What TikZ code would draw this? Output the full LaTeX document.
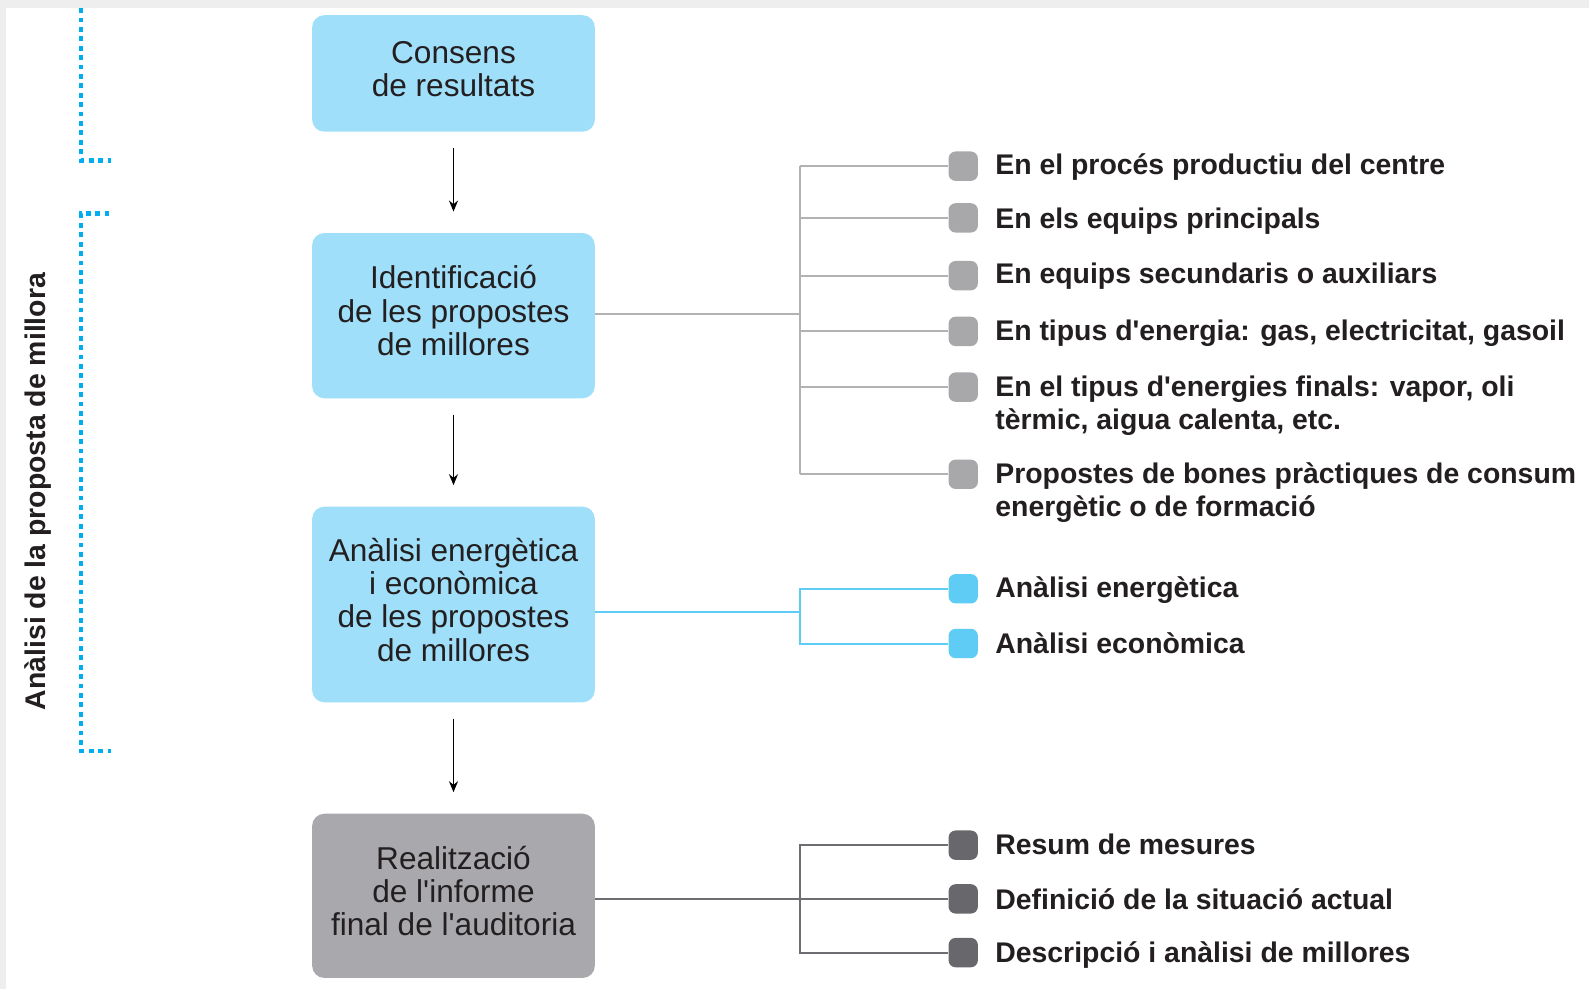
\documentclass[tikz,border=0pt]{standalone}
\usepackage{fontspec}
\setmainfont{Liberation Sans}
\usetikzlibrary{arrows.meta}
\definecolor{boxblue}{RGB}{160,223,249}
\definecolor{boxgray}{RGB}{169,169,173}
\definecolor{bulgray}{RGB}{168,168,171}
\definecolor{bulblue}{RGB}{95,204,245}
\definecolor{buldark}{RGB}{104,104,108}
\definecolor{lingray}{RGB}{178,178,180}
\definecolor{linblue}{RGB}{95,204,245}
\definecolor{lindark}{RGB}{110,110,114}
\definecolor{dotblue}{RGB}{0,174,239}
\definecolor{txt}{RGB}{35,31,32}
\definecolor{frame}{RGB}{238,238,238}
\newcommand{\boxtext}[2]{\raisebox{#1}{\begin{tabular}{@{}c@{}}#2\end{tabular}}}
\tikzset{
  stepbox/.style={rounded corners=12.2pt, minimum width=282.7pt, align=center, inner sep=0pt,
     font=\fontsize{31.6}{33.4}\selectfont, text=txt},
  bul/.style={rounded corners=7.1pt, minimum width=29.4pt, minimum height=29.4pt, inner sep=0pt},
  item/.style={anchor=base west, align=left, inner sep=0pt, font=\bfseries\fontsize{28.4}{33.4}\selectfont, text=txt},
  flow/.style={line width=1.6pt, -{Stealth[length=11pt,width=9pt]}, black, shorten <=16.2pt, shorten >=21.3pt},
  conn/.style={line width=2pt},
  dotbr/.style={dotblue, line width=4.8pt, dash pattern=on 4.8pt off 4.6pt}
}
\begin{document}
\begin{tikzpicture}[x=1.0134pt,y=-1.0134pt]
\useasboundingbox (0,0) rectangle (1568,976);
\fill[white] (0,0) rectangle (1568,976);
\fill[frame] (0,0) rectangle (1568,8);
\fill[frame] (0,0) rectangle (6,976);

% main boxes
\node[stepbox, fill=boxblue, minimum height=116.5pt] (c1) at (447.5,72.5) {\boxtext{8pt}{Consens\\de resultats}};
\node[stepbox, fill=boxblue, minimum height=165.2pt] (c2) at (447.5,311.5) {\boxtext{3pt}{Identificació\\de les propostes\\de millores}};
\node[stepbox, fill=boxblue, minimum height=195.6pt] (c3) at (447.5,596.5) {\boxtext{3pt}{Anàlisi energètica\\i econòmica\\de les propostes\\de millores}};
\node[stepbox, fill=boxgray, minimum height=164.2pt] (c4) at (447.5,884) {\boxtext{3.5pt}{Realització\\de l\textquotesingle informe\\final de l\textquotesingle auditoria}};

\draw[flow] (c1) -- (c2);
\draw[flow] (c2) -- (c3);
\draw[flow] (c3) -- (c4);

% gray group
\node[bul, fill=bulgray] (b1) at (950.5,164) {};
\node[bul, fill=bulgray] (b2) at (950.5,215) {};
\node[bul, fill=bulgray] (b3) at (950.5,272) {};
\node[bul, fill=bulgray] (b4) at (950.5,327) {};
\node[bul, fill=bulgray] (b5) at (950.5,382) {};
\node[bul, fill=bulgray] (b6) at (950.5,468) {};
\node[item] (i1) at (982,172) {En el procés productiu del centre};
\node[item] (i2) at (982,225) {En els equips principals};
\node[item] (i3) at (982,280) {En equips secundaris o auxiliars};
\node[item] (i4) at (982,336) {En tipus d\textquotesingle energia: gas, electricitat, gasoil};
\node[item] (i5) at (982,424) {En el tipus d\textquotesingle energies finals: vapor, oli\\tèrmic, aigua calenta, etc.};
\node[item] (i6) at (982,510) {Propostes de bones pràctiques de consum\\energètic o de formació};
\coordinate (tg) at (789,310);
\draw[conn, lingray] (c2.east |- tg) -- (tg);
\draw[conn, lingray] (tg |- b1) -- (tg |- b6);
\foreach \b in {b1,b2,b3,b4,b5,b6} \draw[conn, lingray] (tg |- \b) -- (\b.west);

% blue group
\node[bul, fill=bulblue] (e1) at (950.5,581) {};
\node[bul, fill=bulblue] (e2) at (950.5,635) {};
\node[item] (j1) at (982,590) {Anàlisi energètica};
\node[item] (j2) at (982,645) {Anàlisi econòmica};
\coordinate (tb) at (789,604);
\draw[conn, linblue] (c3.east |- tb) -- (tb);
\draw[conn, linblue] (e1.west) -- (tb |- e1) -- (tb |- e2) -- (e2.west);

% dark group
\node[bul, fill=buldark] (d1) at (950.5,834) {};
\node[bul, fill=buldark] (d2) at (950.5,887) {};
\node[bul, fill=buldark] (d3) at (950.5,940) {};
\node[item] (k1) at (982,843) {Resum de mesures};
\node[item] (k2) at (982,897) {Definició de la situació actual};
\node[item] (k3) at (982,950) {Descripció i anàlisi de millores};
\coordinate (td) at (789,886);
\draw[conn, lindark] (c4.east |- d2) -- (d2.west);
\draw[conn, lindark] (d1.west) -- (td |- d1) -- (td |- d3) -- (d3.west);

% left label and brackets
\node[rotate=90, inner sep=0pt, font=\bfseries\fontsize{28.4}{33.4}\selectfont, text=txt] (lab) at (38,485) {Anàlisi de la proposta de millora};
\draw[dotbr] (80,8) -- (80,158) -- (110,158);
\draw[dotbr] (108,211) -- (80,211) -- (80,741) -- (110,741);
\end{tikzpicture}
\end{document}
